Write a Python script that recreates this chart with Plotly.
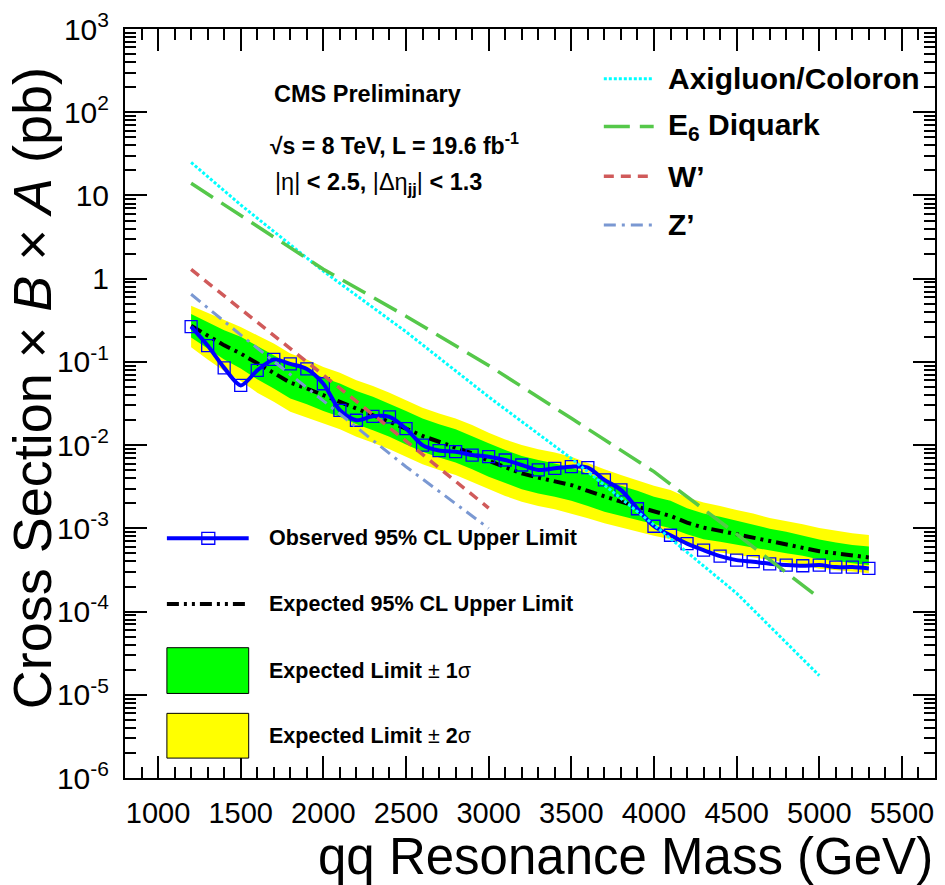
import plotly.graph_objects as go

# ---------------- data ----------------
mass = [1200, 1300, 1400, 1500, 1600, 1700, 1800, 1900, 2000, 2100, 2200, 2300, 2400, 2500,
        2600, 2700, 2800, 2900, 3000, 3100, 3200, 3300, 3400, 3500, 3600, 3700, 3800, 3900,
        4000, 4100, 4200, 4300, 4400, 4500, 4600, 4700, 4800, 4900, 5000, 5100, 5200, 5300]

observed = [0.265, 0.157, 0.0848, 0.0522, 0.0789, 0.107, 0.0946, 0.0824, 0.0546, 0.0262,
            0.0199, 0.0222, 0.0218, 0.0158, 0.0100, 0.0086, 0.00834, 0.0076, 0.00726, 0.00662,
            0.00577, 0.00503, 0.00526, 0.00551, 0.00536, 0.00382, 0.0029, 0.00172, 0.00106,
            0.000826, 0.000656, 0.000546, 0.000463, 0.000415, 0.000397, 0.000375, 0.000362,
            0.000355, 0.000362, 0.000342, 0.000342, 0.00033]

expected = [0.272, 0.209, 0.158, 0.126, 0.0955, 0.0741, 0.0562, 0.0479, 0.0398, 0.0339,
            0.0275, 0.0234, 0.0195, 0.0158, 0.0129, 0.0110, 0.00955, 0.00794, 0.00646, 0.00537,
            0.00457, 0.00407, 0.00372, 0.00331, 0.00282, 0.00240, 0.00209, 0.00182, 0.00158,
            0.00141, 0.00117, 0.00102, 0.000933, 0.000851, 0.000776, 0.000700, 0.000646,
            0.000589, 0.000531, 0.000501, 0.000468, 0.000447]

plus2 = [0.473, 0.389, 0.316, 0.263, 0.209, 0.166, 0.126, 0.107, 0.0871, 0.0741,
         0.0603, 0.0513, 0.0427, 0.0347, 0.0282, 0.0240, 0.0209, 0.0174, 0.0141, 0.0117,
         0.0100, 0.00891, 0.00813, 0.00724, 0.00603, 0.00513, 0.00437, 0.00380, 0.00324,
         0.00288, 0.00234, 0.00204, 0.00186, 0.00166, 0.00151, 0.00133, 0.00123,
         0.00112, 0.00101, 0.000933, 0.000871, 0.000832]

plus1 = [0.376, 0.302, 0.240, 0.200, 0.155, 0.123, 0.0933, 0.0794, 0.0646, 0.0550,
         0.0447, 0.0380, 0.0316, 0.0257, 0.0209, 0.0178, 0.0155, 0.0129, 0.0105, 0.00871,
         0.00741, 0.00661, 0.00603, 0.00537, 0.00447, 0.00380, 0.00324, 0.00282, 0.00240,
         0.00214, 0.00174, 0.00151, 0.00138, 0.00123, 0.00112, 0.000989, 0.000912,
         0.000813, 0.000733, 0.000676, 0.000631, 0.000603]

minus1 = [0.197, 0.145, 0.107, 0.0832, 0.0617, 0.0479, 0.0363, 0.0309, 0.0257, 0.0219,
          0.0178, 0.0151, 0.0126, 0.0102, 0.00832, 0.00708, 0.00617, 0.00513, 0.00417, 0.00347,
          0.00295, 0.00263, 0.00240, 0.00214, 0.00186, 0.00158, 0.00141, 0.00126, 0.00112,
          0.00100, 0.000851, 0.000741, 0.000692, 0.000646, 0.000589, 0.000543, 0.000501,
          0.000468, 0.000422, 0.000407, 0.000380, 0.000363]

minus2 = [0.150, 0.107, 0.0776, 0.0589, 0.0427, 0.0331, 0.0251, 0.0214, 0.0182, 0.0155,
          0.0126, 0.0107, 0.00891, 0.00724, 0.00589, 0.00501, 0.00437, 0.00363, 0.00295, 0.00245,
          0.00209, 0.00186, 0.00170, 0.00151, 0.00132, 0.00115, 0.00102, 0.000912, 0.000813,
          0.000741, 0.000631, 0.000550, 0.000513, 0.000479, 0.000447, 0.000412, 0.000389,
          0.000363, 0.000327, 0.000316, 0.000302, 0.000288]

theory_mass_long = [1200, 1500, 2000, 2500, 3000, 3500, 4000, 4500, 5000]
axigluon = [25.0, 7.7, 1.23, 0.23, 0.038, 0.0069, 0.0011, 0.000166, 0.000017]
e6_diquark = [14.0, 5.7, 1.3, 0.354, 0.0906, 0.021, 0.0048, 0.00085, 0.000145]

theory_mass_short = [1200, 1500, 2000, 2500, 3000]
w_prime = [1.29, 0.43, 0.071, 0.0112, 0.00175]
z_prime = [0.65, 0.211, 0.034, 0.0055, 0.0010]

x_tick_vals = [1000, 1500, 2000, 2500, 3000, 3500, 4000, 4500, 5000, 5500]
y_tick_vals = [1e-6, 1e-5, 1e-4, 1e-3, 1e-2, 1e-1, 1, 10, 100, 1000]
y_tick_text = ["10<sup>-6</sup>", "10<sup>-5</sup>", "10<sup>-4</sup>", "10<sup>-3</sup>",
               "10<sup>-2</sup>", "10<sup>-1</sup>", "1", "10", "10<sup>2</sup>", "10<sup>3</sup>"]

# ---------------- styles ----------------
FONT = "Liberation Sans, Arial, Helvetica, sans-serif"
W, H = 945, 885
L, R, T, B = 125, 937, 25, 778
C_AXI = "#00ffff"
C_E6 = "#55c84a"
C_W = "#d05a5a"
C_Z = "#7a98d2"
D_AXI = "3px,2px"
D_E6 = "26px,10px"
D_W = "10px,7px"
D_Z = "12px,6px,3px,6px"
D_EXP = "12px,5px,3px,5px,3px,5px"


def px(x):
    return (x - L) / (R - L)


def py(y):
    return (B - y) / (B - T)


fig = go.Figure()

# bands
fig.add_trace(go.Scatter(x=mass + mass[::-1], y=plus2 + minus2[::-1], fill="toself",
                         fillcolor="#ffff00", line=dict(width=0), mode="lines",
                         hoverinfo="skip", showlegend=False))
fig.add_trace(go.Scatter(x=mass + mass[::-1], y=plus1 + minus1[::-1], fill="toself",
                         fillcolor="#00ff00", line=dict(width=0), mode="lines",
                         hoverinfo="skip", showlegend=False))
# expected
fig.add_trace(go.Scatter(x=mass, y=expected, mode="lines",
                         line=dict(color="black", width=4, dash=D_EXP), showlegend=False))
# observed
fig.add_trace(go.Scatter(x=mass, y=observed, mode="lines+markers",
                         line=dict(color="#0000ff", width=4, shape="spline", smoothing=0.8),
                         marker=dict(symbol="square-open", size=12, color="#0000ff",
                                     line=dict(width=1.3, color="#0000ff")),
                         showlegend=False))
# theory
fig.add_trace(go.Scatter(x=theory_mass_long, y=axigluon, mode="lines",
                         line=dict(color=C_AXI, width=3, dash=D_AXI), showlegend=False))
fig.add_trace(go.Scatter(x=theory_mass_long, y=e6_diquark, mode="lines",
                         line=dict(color=C_E6, width=3.5, dash=D_E6), showlegend=False))
fig.add_trace(go.Scatter(x=theory_mass_short, y=w_prime, mode="lines",
                         line=dict(color=C_W, width=3.5, dash=D_W), showlegend=False))
fig.add_trace(go.Scatter(x=theory_mass_short, y=z_prime, mode="lines",
                         line=dict(color=C_Z, width=3, dash=D_Z), showlegend=False))

shapes = []
annotations = []

# top-right legend
top_items = [("Axigluon/Coloron", C_AXI, D_AXI, 3, 75),
             ("E<sub>6</sub> Diquark", C_E6, D_E6, 3.5, 123),
             ("W’", C_W, D_W, 3.5, 173),
             ("Z’", C_Z, D_Z, 3, 222)]
for text, col, dash, wd, yy in top_items:
    shapes.append(dict(type="line", xref="paper", yref="paper", x0=px(605), x1=px(655),
                       y0=py(yy), y1=py(yy), line=dict(color=col, width=wd, dash=dash)))
    annotations.append(dict(x=px(667), y=py(yy), xref="paper", yref="paper", text=f"<b>{text}</b>",
                            showarrow=False, xanchor="left", yanchor="middle",
                            font=dict(family=FONT, size=30, color="black")))

# bottom-left legend
shapes.append(dict(type="line", xref="paper", yref="paper", x0=px(167), x1=px(249),
                   y0=py(537), y1=py(537), line=dict(color="#0000ff", width=4)))
shapes.append(dict(type="rect", xref="paper", yref="paper", x0=px(202), x1=px(215),
                   y0=py(543), y1=py(531), line=dict(color="#0000ff", width=1.3)))
shapes.append(dict(type="line", xref="paper", yref="paper", x0=px(167), x1=px(249),
                   y0=py(603), y1=py(603), line=dict(color="black", width=4, dash=D_EXP)))
shapes.append(dict(type="rect", xref="paper", yref="paper", x0=px(167), x1=px(249),
                   y0=py(693), y1=py(647), fillcolor="#00ff00", line=dict(color="black", width=1)))
shapes.append(dict(type="rect", xref="paper", yref="paper", x0=px(167), x1=px(249),
                   y0=py(758), y1=py(713), fillcolor="#ffff00", line=dict(color="black", width=1)))

bottom_items = [("<b>Observed 95% CL Upper Limit</b>", 537),
                ("<b>Expected 95% CL Upper Limit</b>", 603),
                ("<b>Expected Limit</b> ± <b>1</b>σ", 670),
                ("<b>Expected Limit</b> ± <b>2</b>σ", 736)]
for text, yy in bottom_items:
    annotations.append(dict(x=px(267), y=py(yy), xref="paper", yref="paper", text=text,
                            showarrow=False, xanchor="left", yanchor="middle",
                            font=dict(family=FONT, size=21.5, color="black")))

# CMS labels
annotations.append(dict(x=px(272), y=py(90), xref="paper", yref="paper",
                        text="<b>CMS Preliminary</b>", showarrow=False, xanchor="left",
                        yanchor="middle", font=dict(family=FONT, size=23.5, color="black")))
annotations.append(dict(x=px(268), y=py(141), xref="paper", yref="paper",
                        text="<b>√s = 8 TeV, L = 19.6 fb<sup>-1</sup></b>", showarrow=False,
                        xanchor="left", yanchor="middle",
                        font=dict(family=FONT, size=23, color="black")))
annotations.append(dict(x=px(273), y=py(180), xref="paper", yref="paper",
                        text="|η| <b>&lt; 2.5, </b>|Δη<sub><b>jj</b></sub>| <b>&lt; 1.3</b>",
                        showarrow=False, xanchor="left", yanchor="middle",
                        font=dict(family=FONT, size=23.5, color="black")))

# axis titles
annotations.append(dict(x=px(937), y=py(857), xref="paper", yref="paper",
                        text="qq Resonance Mass (GeV)", showarrow=False, xanchor="right",
                        yanchor="middle", font=dict(family=FONT, size=51, color="black")))
annotations.append(dict(x=px(32), y=py(386), xref="paper", yref="paper",
                        text="Cross Section × <i>B</i> × <i>A</i> (pb)", showarrow=False,
                        xanchor="center", yanchor="middle", textangle=-90,
                        font=dict(family=FONT, size=54, color="black")))

minor_y = [m * 10 ** e for e in range(-6, 3) for m in range(2, 10)]

fig.update_layout(
    width=W, height=H,
    margin=dict(l=L, r=W - R, t=T, b=H - B, pad=0),
    paper_bgcolor="white", plot_bgcolor="white",
    showlegend=False,
    shapes=shapes, annotations=annotations,
    font=dict(family=FONT, color="black"),
    xaxis=dict(range=[800, 5700], tickmode="array", tickvals=x_tick_vals,
               ticktext=[str(v) for v in x_tick_vals],
               ticks="inside", ticklen=22, tickwidth=1.5, tickcolor="black",
               minor=dict(ticks="inside", ticklen=11, tickwidth=1.5, tickcolor="black",
                          tickmode="linear", tick0=0, dtick=100, showgrid=False),
               showline=True, linecolor="black", linewidth=2, mirror="allticks",
               showgrid=False, zeroline=False,
               tickfont=dict(family=FONT, size=29, color="black"), ticklabelstandoff=8),
    yaxis=dict(type="log", range=[-6, 3], tickmode="array", tickvals=y_tick_vals,
               ticktext=y_tick_text,
               ticks="inside", ticklen=22, tickwidth=1.5, tickcolor="black",
               minor=dict(ticks="inside", ticklen=11, tickwidth=1.5, tickcolor="black",
                          tickmode="array", tickvals=minor_y, showgrid=False),
               showline=True, linecolor="black", linewidth=2, mirror="allticks",
               showgrid=False, zeroline=False,
               tickfont=dict(family=FONT, size=30, color="black"), ticklabelstandoff=8),
)

fig.write_html("out.html")
